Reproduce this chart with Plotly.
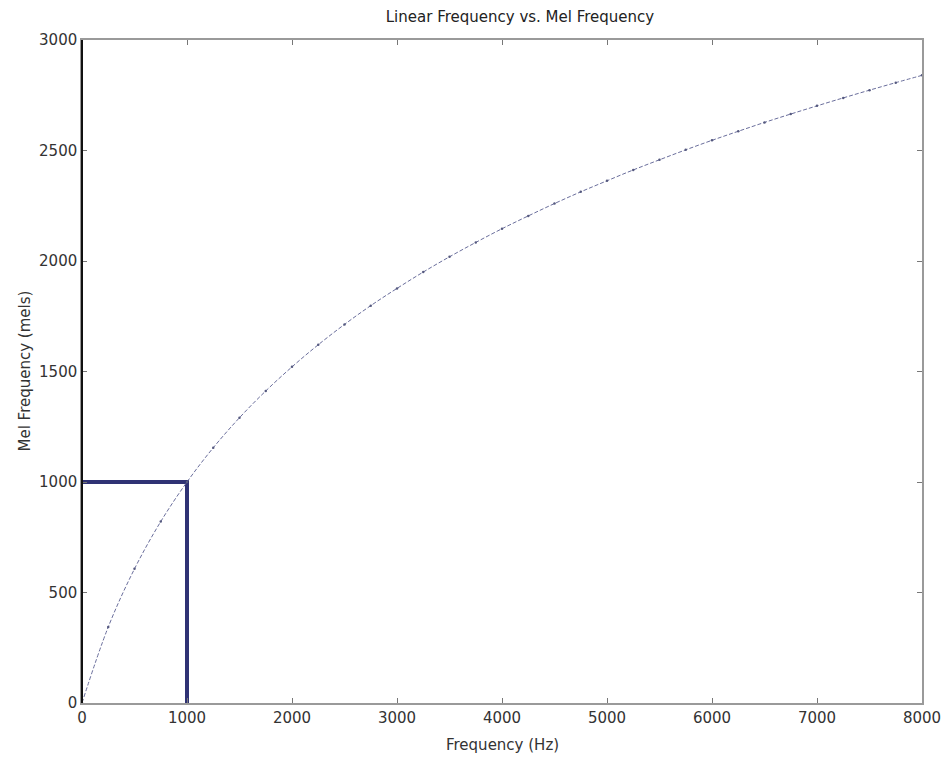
import plotly.graph_objects as go

freq_hz = [0, 250, 500, 750, 1000, 1250, 1500, 1750, 2000, 2250, 2500, 2750, 3000,
           3250, 3500, 3750, 4000, 4250, 4500, 4750, 5000, 5250, 5500, 5750, 6000,
           6250, 6500, 6750, 7000, 7250, 7500, 7750, 8000]
mel = [0, 344, 607, 821, 1000, 1155, 1291, 1412, 1521, 1621, 1713, 1798, 1876,
       1950, 2019, 2084, 2146, 2204, 2260, 2313, 2363, 2412, 2458, 2503, 2546,
       2587, 2627, 2665, 2702, 2738, 2773, 2807, 2840]

marker_hz = [1000, 1000, 0]
marker_mel = [0, 1000, 1000]

x_ticks = [0, 1000, 2000, 3000, 4000, 5000, 6000, 7000, 8000]
y_ticks = [0, 500, 1000, 1500, 2000, 2500, 3000]

fig = go.Figure()
fig.add_trace(go.Scatter(x=marker_hz, y=marker_mel, mode="lines",
                         line=dict(color="#2f3274", width=4), showlegend=False))
fig.add_trace(go.Scatter(x=freq_hz, y=mel, mode="lines+markers",
                         line=dict(color="#6a6e9c", width=1, dash="4px,2px", shape="spline"),
                         marker=dict(size=2.5, color="#55597f"), showlegend=False))

fam = "DejaVu Sans, Arial, sans-serif"
font = dict(family=fam, size=15, color="#333333")
fig.update_layout(
    width=941, height=752,
    margin=dict(l=74, r=27, t=32, b=57),
    paper_bgcolor="white", plot_bgcolor="white",
    title=dict(text="Linear Frequency vs. Mel Frequency", x=(520 - 8) / 941, xanchor="center",
               y=0.988, yanchor="middle", font=dict(family=fam, size=15, color="#222")),
    font=font,
    xaxis=dict(range=[0, 8000], tickvals=x_ticks, showgrid=False, zeroline=False,
               showline=True, linecolor="#9a9a9a", linewidth=1.5, mirror="ticks",
               ticks="inside", ticklen=5, tickcolor="#777", automargin=False),
    yaxis=dict(range=[0, 3000], tickvals=y_ticks, showgrid=False, zeroline=False,
               showline=True, linecolor="#9a9a9a", linewidth=1.5, mirror="ticks",
               ticks="inside", ticklen=5, tickcolor="#777", automargin=False),
    annotations=[
        dict(text="Frequency (Hz)", xref="paper", yref="paper", x=0.5, y=0,
             xanchor="center", yanchor="middle", yshift=-42, showarrow=False, font=font),
        dict(text="Mel Frequency (mels)", xref="paper", yref="paper", x=0, y=0.5,
             xanchor="center", yanchor="middle", xshift=-58, textangle=-90,
             showarrow=False, font=font),
    ],
    shapes=[dict(type="line", xref="paper", yref="paper", x0=0, x1=0, y0=0, y1=1,
                 line=dict(color="#111111", width=2))],
)

fig.write_html("out.html")
